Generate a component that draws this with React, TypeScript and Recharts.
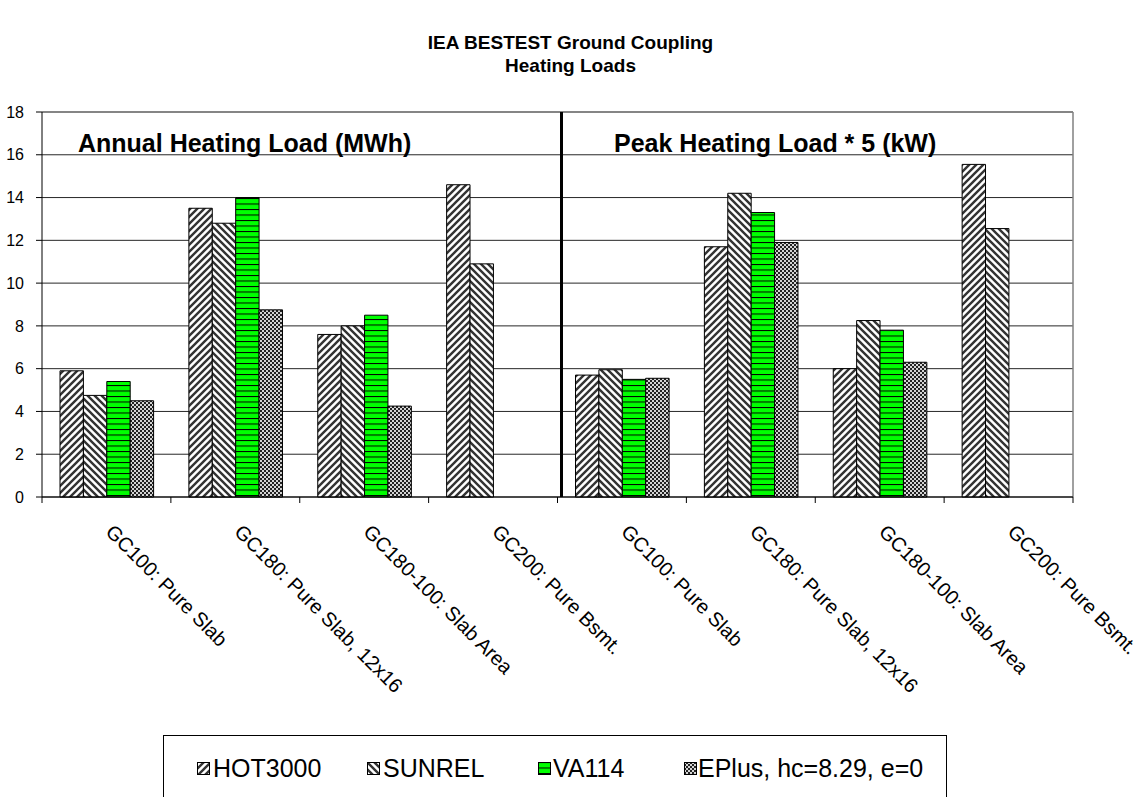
import React from "react";
import {
  BarChart,
  Bar,
  XAxis,
  YAxis,
  CartesianGrid,
  ReferenceLine,
} from "recharts";

// Categories repeat: the left half is annual load, the right half is peak load * 5.
const categories = [
  "GC100: Pure Slab",
  "GC180: Pure Slab, 12x16",
  "GC180-100: Slab Area",
  "GC200: Pure Bsmt.",
  "GC100: Pure Slab",
  "GC180: Pure Slab, 12x16",
  "GC180-100: Slab Area",
  "GC200: Pure Bsmt.",
];
const hot3000 = [5.9, 13.5, 7.6, 14.6, 5.7, 11.7, 6.0, 15.55];
const sunrel = [4.75, 12.8, 8.0, 10.9, 5.95, 14.2, 8.25, 12.55];
const va114 = [5.4, 14.0, 8.5, null, 5.5, 13.3, 7.8, null];
const eplus = [4.5, 8.75, 4.25, null, 5.55, 11.9, 6.3, null];
const yTicks = [0, 2, 4, 6, 8, 10, 12, 14, 16, 18];

const series = [
  { key: "hot3000", name: "HOT3000", fill: "url(#pat-fwd)" },
  { key: "sunrel", name: "SUNREL", fill: "url(#pat-back)" },
  { key: "va114", name: "VA114", fill: "url(#pat-green)" },
  { key: "eplus", name: "EPlus, hc=8.29, e=0", fill: "url(#pat-check)" },
];

// ids keep the duplicated category names apart on the band axis
const data = categories.map((name, i) => ({
  id: String(i),
  name,
  hot3000: hot3000[i],
  sunrel: sunrel[i],
  va114: va114[i],
  eplus: eplus[i],
}));

const FONT = "'Liberation Sans', Arial, sans-serif";

function Patterns() {
  return (
    <defs>
      <pattern id="pat-fwd" patternUnits="userSpaceOnUse" width="7" height="7">
        <rect width="7" height="7" fill="#fff" />
        <path d="M-1.75,1.75 L1.75,-1.75 M0,7 L7,0 M5.25,8.75 L8.75,5.25" stroke="#333" strokeWidth="2.4" />
      </pattern>
      <pattern id="pat-back" patternUnits="userSpaceOnUse" width="7" height="7">
        <rect width="7" height="7" fill="#fff" />
        <path d="M-1.75,5.25 L1.75,8.75 M0,0 L7,7 M5.25,-1.75 L8.75,1.75" stroke="#333" strokeWidth="2.4" />
      </pattern>
      <pattern id="pat-green" patternUnits="userSpaceOnUse" width="6" height="5.5">
        <rect width="6" height="5.5" fill="#00ff00" />
        <rect y="0" width="6" height="1" fill="#000" />
      </pattern>
      <pattern id="pat-check" patternUnits="userSpaceOnUse" width="4" height="4">
        <rect width="4" height="4" fill="#222" />
        <rect x="0.1" y="0.1" width="1.8" height="1.8" fill="#fff" />
        <rect x="2.1" y="2.1" width="1.8" height="1.8" fill="#fff" />
      </pattern>
    </defs>
  );
}

// Label rotated 45deg plus the boundary tick marks Excel puts between categories.
function CategoryTick(props: any) {
  const { x, y, payload, index, width, visibleTicksCount } = props;
  const half =
    payload && payload.offset ? payload.offset : width / (2 * (visibleTicksCount || 8));
  const ax = x - 2;
  const ay = y + 36;
  const label = categories[Number(payload.value)];
  return (
    <g>
      <line x1={x - half} x2={x - half} y1={y} y2={y + 6} stroke="#000" />
      {index === categories.length - 1 && (
        <line x1={x + half} x2={x + half} y1={y} y2={y + 6} stroke="#000" />
      )}
      <text
        x={ax}
        y={ay}
        transform={`rotate(45 ${ax} ${ay})`}
        textAnchor="start"
        fontSize={20}
        fontFamily={FONT}
        fill="#000"
      >
        {label}
      </text>
    </g>
  );
}

function LegendBox() {
  const items = [
    { ...series[0], icon: 197, text: 213 },
    { ...series[1], icon: 367, text: 383 },
    { ...series[2], icon: 538, text: 553 },
    { ...series[3], icon: 684, text: 698 },
  ];
  return (
    <div
      style={{
        position: "absolute",
        left: 163,
        top: 735,
        width: 784,
        height: 80,
        border: "1px solid #000",
        boxSizing: "border-box",
        background: "#fff",
      }}
    >
      {items.map((it) => (
        <React.Fragment key={it.key}>
          <svg
            width={13}
            height={13}
            style={{ position: "absolute", left: it.icon - 164, top: 26 }}
          >
            <rect x={0.5} y={0.5} width={12} height={12} fill={it.fill} stroke="#000" />
          </svg>
          <span
            style={{
              position: "absolute",
              left: it.text - 164,
              top: 18,
              fontFamily: FONT,
              fontSize: 25,
              lineHeight: "28px",
              color: "#000",
              whiteSpace: "nowrap",
            }}
          >
            {it.name}
          </span>
        </React.Fragment>
      ))}
    </div>
  );
}

const note: React.CSSProperties = {
  position: "absolute",
  top: 128,
  fontFamily: FONT,
  fontWeight: "bold",
  fontSize: 25,
  lineHeight: "30px",
  whiteSpace: "nowrap",
  color: "#000",
};

export default function App() {
  return (
    <div
      style={{
        position: "absolute",
        left: 0,
        top: 0,
        width: 1141,
        height: 797,
        overflow: "hidden",
        background: "#fff",
      }}
    >
      <div
        style={{
          position: "absolute",
          left: 0,
          top: 31,
          width: 1141,
          textAlign: "center",
          fontFamily: FONT,
          fontWeight: "bold",
          fontSize: 19,
          lineHeight: "23px",
          color: "#000",
        }}
      >
        IEA BESTEST Ground Coupling
        <br />
        Heating Loads
      </div>

      <BarChart
        width={1141}
        height={797}
        data={data}
        margin={{ top: 112, right: 68, bottom: 270, left: 1 }}
        barGap={0}
        barSize={23.4}
      >
        <Patterns />
        <CartesianGrid vertical={false} stroke="#000" strokeOpacity={0.85} />
        <XAxis
          dataKey="id"
          interval={0}
          tickLine={false}
          axisLine={{ stroke: "#000" }}
          tickSize={0}
          tickMargin={0}
          height={30}
          tick={<CategoryTick />}
        />
        <YAxis
          domain={[0, 18]}
          ticks={yTicks}
          width={41}
          tickSize={6}
          tickMargin={12}
          axisLine={{ stroke: "#000" }}
          tickLine={{ stroke: "#000" }}
          tick={{ fontSize: 16, fill: "#000", fontFamily: FONT }}
        />
        <ReferenceLine y={18} stroke="#808080" strokeWidth={1.5} />
        <ReferenceLine x="7" position="end" stroke="#808080" strokeWidth={1.5} />
        {series.map((s) => (
          <Bar
            key={s.key}
            dataKey={s.key}
            name={s.name}
            fill={s.fill}
            stroke="#000"
            strokeWidth={1}
            isAnimationActive={false}
          />
        ))}
        <ReferenceLine
          x="4"
          position="start"
          stroke="#000"
          strokeWidth={3}
          shape={(p: any) => (
            <line
              x1={p.x1 + 4}
              x2={p.x2 + 4}
              y1={p.y1}
              y2={p.y2}
              stroke="#000"
              strokeWidth={3}
            />
          )}
        />
      </BarChart>

      <div style={{ ...note, left: 78 }}>Annual Heating Load (MWh)</div>
      <div style={{ ...note, left: 614 }}>Peak Heating Load * 5 (kW)</div>

      <LegendBox />
    </div>
  );
}
